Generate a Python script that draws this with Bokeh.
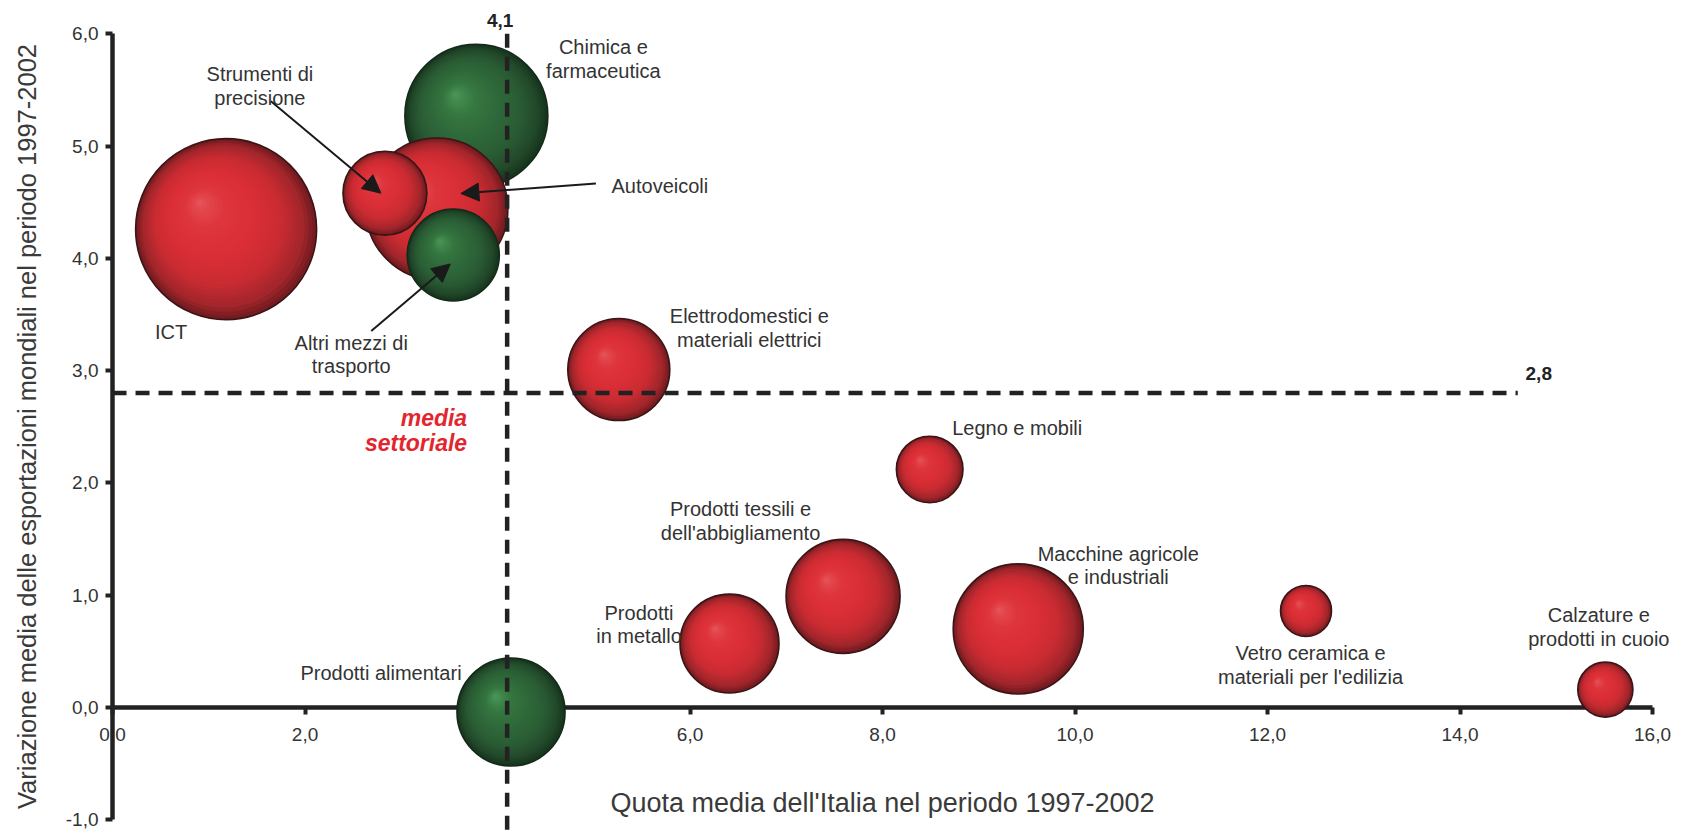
import numpy as np
from bokeh.plotting import figure
from bokeh.models import (Range1d, FixedTicker, CustomJSTickFormatter,
                          ColumnDataSource, Arrow, NormalHead)
from bokeh.core.properties import value
from bokeh.embed import file_html
from bokeh.resources import INLINE

# ---------------------------------------------------------------- data
settori = [
    "ICT",
    "Chimica e farmaceutica",
    "Autoveicoli",
    "Strumenti di precisione",
    "Altri mezzi di trasporto",
    "Elettrodomestici e materiali elettrici",
    "Legno e mobili",
    "Prodotti tessili e dell'abbigliamento",
    "Prodotti in metallo",
    "Macchine agricole e industriali",
    "Vetro ceramica e materiali per l'edilizia",
    "Calzature e prodotti in cuoio",
    "Prodotti alimentari",
]
etichette = [
    "ICT",
    "Chimica e\nfarmaceutica",
    "Autoveicoli",
    "Strumenti di\nprecisione",
    "Altri mezzi di\ntrasporto",
    "Elettrodomestici e\nmateriali elettrici",
    "Legno e mobili",
    "Prodotti tessili e\ndell'abbigliamento",
    "Prodotti\nin metallo",
    "Macchine agricole\ne industriali",
    "Vetro ceramica e\nmateriali per l'edilizia",
    "Calzature e\nprodotti in cuoio",
    "Prodotti alimentari",
]
# quota media dell'Italia 1997-2002
quota = [1.18, 3.78, 3.37, 2.83, 3.54, 5.26, 8.49, 7.59, 6.41, 9.41, 12.40, 15.51, 4.14]
# variazione media delle esportazioni mondiali 1997-2002
variazione = [4.26, 5.27, 4.44, 4.58, 4.03, 3.01, 2.12, 0.99, 0.57, 0.70, 0.86, 0.16, -0.04]
# peso del settore (area della bolla)
peso = [8.19, 5.11, 5.04, 1.76, 2.12, 2.60, 1.11, 3.25, 2.45, 4.23, 0.65, 0.76, 2.92]
gruppo = ["rosso", "verde", "rosso", "rosso", "verde", "rosso", "rosso",
          "rosso", "rosso", "rosso", "rosso", "rosso", "verde"]

media_quota = 4.1
media_variazione = 2.8

x_ticks = [0, 2, 4, 6, 8, 10, 12, 14, 16]
y_ticks = [-1, 0, 1, 2, 3, 4, 5, 6]

# ---------------------------------------------------------------- layout
W, H = 1683, 830
X_RANGE = (-1.164, 16.322)
Y_RANGE = (-1.095, 6.296)
SX = W / (X_RANGE[1] - X_RANGE[0])   # px per unit
SY = H / (Y_RANGE[1] - Y_RANGE[0])
R_SCALE = 31.62                      # px radius per sqrt(peso)
H_LINE_END = 14.6
FONT = "Liberation Sans"
INK = "#222222"
TXT = "#333333"


def dx(px):
    return px / SX


def dy(px):
    # screen offset (down positive) to data offset
    return -px / SY


# label placement: offset of the first line from the bubble centre, px
label_pos = {
    "ICT": (-55, 103),
    "Chimica e farmaceutica": (127, -68.5),
    "Autoveicoli": (223, -22.5),
    "Strumenti di precisione": (-125, -119),
    "Altri mezzi di trasporto": (-102, 88),
    "Elettrodomestici e materiali elettrici": (130.5, -53.5),
    "Legno e mobili": (87.5, -41.5),
    "Prodotti tessili e dell'abbigliamento": (-102.5, -87),
    "Prodotti in metallo": (-90.5, -31),
    "Macchine agricole e industriali": (100, -75),
    "Vetro ceramica e materiali per l'edilizia": (4.5, 42.5),
    "Calzature e prodotti in cuoio": (-6.5, -74.5),
    "Prodotti alimentari": (-130, -39),
}
LINE_STEP = 23.5

# arrows: (start offset, end offset) from the bubble centre, px
arrow_pos = {
    "Strumenti di precisione": ((-114, -92), (-4, 0)),
    "Autoveicoli": ((159, -25.5), (24, -15.5)),
    "Altri mezzi di trasporto": ((-82, 76), (-3, 9)),
}

# sphere shading stops (t = 0 rim -> t = 1 highlight)
PALETTE = {
    "rosso": [(0.0, "#741c20"), (0.1, "#a2262b"), (0.28, "#c92b32"),
              (0.5, "#da2e36"), (0.75, "#de343b"), (0.9, "#e2464c"), (1.0, "#e6585d")],
    "verde": [(0.0, "#17361e"), (0.1, "#22482a"), (0.28, "#2a5c34"),
              (0.5, "#2e683a"), (0.75, "#35763f"), (0.9, "#428a4e"), (1.0, "#4f985b")],
}
OUTLINE = {"rosso": "#3a1416", "verde": "#142a18"}


def hex_rgb(h):
    h = h.lstrip("#")
    return np.array([int(h[i:i + 2], 16) for i in (0, 2, 4)], dtype=float)


def shade(stops, t):
    for (t0, c0), (t1, c1) in zip(stops[:-1], stops[1:]):
        if t <= t1:
            f = (t - t0) / (t1 - t0)
            c = hex_rgb(c0) * (1 - f) + hex_rgb(c1) * f
            return "#%02x%02x%02x" % tuple(int(round(v)) for v in c)
    return stops[-1][1]


# ---------------------------------------------------------------- figure
p = figure(width=W, height=H, x_range=Range1d(*X_RANGE), y_range=Range1d(*Y_RANGE),
           output_backend="svg", toolbar_location=None, title=None,
           min_border=0, min_border_left=0, min_border_right=0,
           min_border_top=0, min_border_bottom=0)
p.outline_line_color = None
p.xgrid.visible = False
p.ygrid.visible = False
p.background_fill_color = "white"
p.border_fill_color = "white"

fmt = CustomJSTickFormatter(code="return tick.toFixed(1).replace('.', ',');")

xa = p.xaxis[0]
ya = p.yaxis[0]
xa.fixed_location = 0
ya.fixed_location = 0
xa.bounds = (x_ticks[0], x_ticks[-1])
ya.bounds = (y_ticks[0], y_ticks[-1])
xa.ticker = FixedTicker(ticks=x_ticks)
ya.ticker = FixedTicker(ticks=y_ticks)
xa.axis_label = "Quota media dell'Italia nel periodo 1997-2002"
ya.axis_label = "Variazione media delle esportazioni mondiali nel periodo 1997-2002"
for ax in (xa, ya):
    ax.formatter = fmt
    ax.axis_line_width = 4.5
    ax.axis_line_color = INK
    ax.major_tick_line_width = 4
    ax.major_tick_line_color = INK
    ax.major_tick_in = 0
    ax.major_tick_out = 7
    ax.minor_tick_in = 0
    ax.minor_tick_out = 0
    ax.major_label_text_font = FONT
    ax.major_label_text_font_size = "19px"
    ax.major_label_text_color = TXT
    ax.axis_label_text_font = FONT
    ax.axis_label_text_font_style = "normal"
    ax.axis_label_text_color = "#3a3a3a"
xa.axis_label_text_font_size = "27px"
ya.axis_label_text_font_size = "25.5px"
xa.major_label_standoff = 13
xa.axis_label_standoff = 44
ya.major_label_standoff = 7
ya.axis_label_standoff = 22

# ---------------------------------------------------------------- bubbles
N_LAYERS = 30
order = sorted(range(len(settori)), key=lambda i: -peso[i])
for i in order:
    r = R_SCALE * np.sqrt(peso[i])
    stops = PALETTE[gruppo[i]]
    t = np.arange(N_LAYERS) / N_LAYERS
    src = ColumnDataSource(dict(
        x=quota[i] + t * dx(-0.3 * r),
        y=variazione[i] + t * dy(-0.3 * r),
        r=r * (1 - t),
        c=[shade(stops, tt) for tt in t],
    ))
    p.circle("x", "y", radius="r", radius_units="screen", fill_color="c",
             line_color=None, source=src, level="annotation")
    p.circle(x=[quota[i]], y=[variazione[i]], radius=r, radius_units="screen",
             fill_color=None, line_color=OUTLINE[gruppo[i]], line_width=1.6,
             level="annotation")

# ---------------------------------------------------------------- sector averages
p.segment(x0=[media_quota], y0=[y_ticks[-1]], x1=[media_quota], y1=[Y_RANGE[0]],
          line_color=INK, line_width=4.5, line_dash="14 9", level="overlay")
p.segment(x0=[x_ticks[0]], y0=[media_variazione], x1=[H_LINE_END], y1=[media_variazione],
          line_color=INK, line_width=4.5, line_dash="14 9", level="overlay")

p.text(x=[media_quota + dx(-7)], y=[y_ticks[-1] + dy(-13)],
       text=[f"{media_quota:.1f}".replace(".", ",")],
       text_font=value(FONT), text_font_size="19px", text_font_style="bold",
       text_color=INK, text_align="center", text_baseline="middle", level="overlay")
p.text(x=[H_LINE_END + dx(21)], y=[media_variazione + dy(-20)],
       text=[f"{media_variazione:.1f}".replace(".", ",")],
       text_font=value(FONT), text_font_size="19px", text_font_style="bold",
       text_color=INK, text_align="center", text_baseline="middle", level="overlay")
p.text(x=[media_quota + dx(-40)] * 2,
       y=[media_variazione + dy(25), media_variazione + dy(50)],
       text=["media", "settoriale"],
       text_font=value(FONT), text_font_size="23px", text_font_style="bold italic",
       text_color="#e3262e", text_align="right", text_baseline="middle", level="overlay")

# ---------------------------------------------------------------- labels
lx, ly, lt = [], [], []
for i, s in enumerate(settori):
    ox, oy = label_pos[s]
    for k, line in enumerate(etichette[i].split("\n")):
        lx.append(quota[i] + dx(ox))
        ly.append(variazione[i] + dy(oy + k * LINE_STEP))
        lt.append(line)
p.text(x=lx, y=ly, text=lt, text_font=value(FONT), text_font_size="20px",
       text_color=TXT, text_align="center", text_baseline="middle", level="overlay")

for s, ((sx0, sy0), (sx1, sy1)) in arrow_pos.items():
    i = settori.index(s)
    p.add_layout(Arrow(
        end=NormalHead(size=18, fill_color="#1a1a1a", line_color="#1a1a1a"),
        x_start=quota[i] + dx(sx0), y_start=variazione[i] + dy(sy0),
        x_end=quota[i] + dx(sx1), y_end=variazione[i] + dy(sy1),
        line_color="#1a1a1a", line_width=2, level="overlay"))

open("out.html", "w").write(file_html(p, INLINE))
